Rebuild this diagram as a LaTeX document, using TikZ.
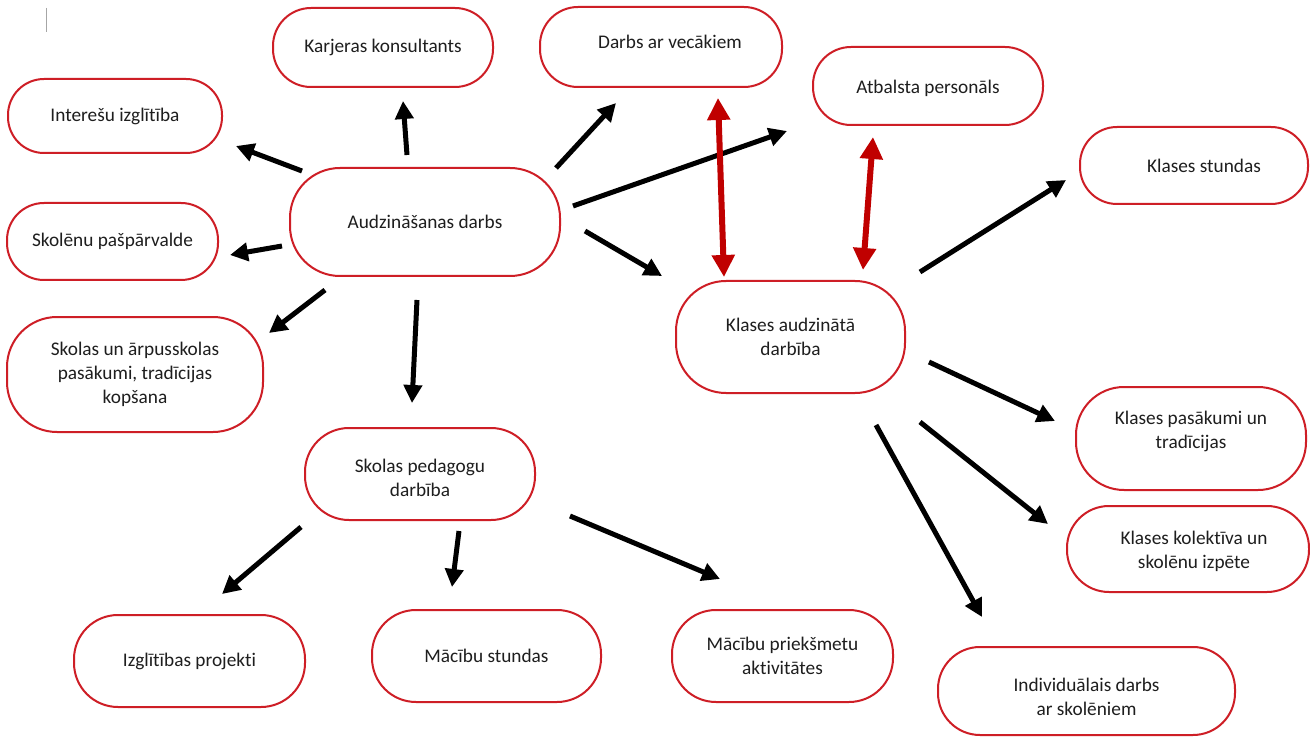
\documentclass[tikz,border=0pt]{standalone}
\usepackage{fontspec}
\setmainfont{Carlito}[Ligatures=NoCommon]
\usetikzlibrary{arrows.meta}
\definecolor{boxred}{RGB}{206,30,38}
\definecolor{arrred}{RGB}{192,0,0}
\definecolor{txt}{RGB}{30,30,30}
\begin{document}
\begin{tikzpicture}[x=1pt,y=-1pt,
  box/.style={draw=boxred, line width=2pt, fill=white, align=center, inner sep=0pt, text=txt,
    font=\fontsize{19.3}{24}\selectfont, rounded corners=#1},
  box/.default=38pt,
  arr/.style={line width=5pt, -{Triangle[length=18pt,width=18pt]}},
  darr/.style={arrred, line width=6pt, {Triangle[length=22pt,width=22pt]}-{Triangle[length=22pt,width=22pt]}}
]
\fill[white] (0,0) rectangle (1310,738);
\path[use as bounding box] (0,0) rectangle (1310,738);

% cursor mark
\draw[gray!70, line width=0.8pt] (46,8) -- (46,32);

% nodes
\node[box=38pt, minimum width=220pt, minimum height=79pt] (karj) at (383,47.5) {Karjeras konsultants};
\node[box=36pt, minimum width=214pt, minimum height=74pt] (inter) at (115,116) {Interešu izglītība};
\node[box=38pt, minimum width=242pt, minimum height=80pt] (darbs) at (661,47) {\hspace*{18pt}Darbs ar vecākiem\\[-14pt]};
\node[box=38pt, minimum width=230pt, minimum height=78pt] (atb) at (928,86) {\\[-5pt]Atbalsta personāls};
\node[box=37pt, minimum width=228pt, minimum height=77pt] (kstund) at (1194,165.5) {\hspace*{20pt}Klases stundas};
\node[box=50pt, minimum width=270pt, minimum height=108pt] (audz) at (425,222) {Audzināšanas darbs};
\node[box=37pt, minimum width=211pt, minimum height=77pt] (skol) at (112.5,241.5) {Skolēnu pašpārvalde};
\node[box=50pt, minimum width=256pt, minimum height=115pt] (skar) at (135,374.5) {Skolas un ārpusskolas\\pasākumi, tradīcijas\\kopšana};
\node[box=50pt, minimum width=229pt, minimum height=112pt] (kaud) at (790.5,337) {Klases audzinātā\\darbība};
\node[box=48pt, minimum width=230pt, minimum height=103pt] (kpas) at (1191,438.5) {Klases pasākumi un\\tradīcijas\\[-7pt]};
\node[box=42pt, minimum width=242pt, minimum height=86pt] (kkol) at (1188,549) {\\[-5pt]\hspace*{12pt}Klases kolektīva un\\\hspace*{12pt}skolēnu izpēte};
\node[box=44pt, minimum width=230pt, minimum height=92pt] (ped) at (420,474) {\\[-3pt]Skolas pedagogu\\darbība};
\node[box=44pt, minimum width=231pt, minimum height=92pt] (izgl) at (189.5,661) {Izglītības projekti};
\node[box=44pt, minimum width=229pt, minimum height=92pt] (mst) at (486.5,656) {Mācību stundas};
\node[box=44pt, minimum width=221pt, minimum height=92pt] (mpr) at (782.5,656) {Mācību priekšmetu\\aktivitātes};
\node[box=42pt, minimum width=297pt, minimum height=88pt] (ind) at (1086.5,691) {\\[1pt]Individuālais darbs\\ar skolēniem};

% arrow end points
\coordinate (a1s) at (407,155);  \coordinate (a1e) at (403,101);
\coordinate (a2s) at (302,171);  \coordinate (a2e) at (236,146);
\coordinate (a3s) at (282,246);  \coordinate (a3e) at (230,255);
\coordinate (a4s) at (325,290);  \coordinate (a4e) at (269,333);
\coordinate (a5s) at (417,300);  \coordinate (a5e) at (412,403);
\coordinate (a6s) at (556,168);  \coordinate (a6e) at (616,103);
\coordinate (a7s) at (573,206);  \coordinate (a7e) at (787,131);
\coordinate (a8s) at (585,231);  \coordinate (a8e) at (662,276);
\coordinate (r1s) at (718,98);   \coordinate (r1e) at (724,277);
\coordinate (r2s) at (873,137);  \coordinate (r2e) at (863,270);
\coordinate (a9s) at (920,272);  \coordinate (a9e) at (1066,180);
\coordinate (a10s) at (929,362); \coordinate (a10e) at (1055,421);
\coordinate (a11s) at (920,422); \coordinate (a11e) at (1048,524);
\coordinate (a12s) at (876,425); \coordinate (a12e) at (982,617);
\coordinate (a13s) at (570,516); \coordinate (a13e) at (720,579);
\coordinate (a14s) at (459,531); \coordinate (a14e) at (452,587);
\coordinate (a15s) at (301,527); \coordinate (a15e) at (222,594);

% connectors
\draw[arr] (a1s) -- (a1e);
\draw[arr] (a2s) -- (a2e);
\draw[arr] (a3s) -- (a3e);
\draw[arr] (a4s) -- (a4e);
\draw[arr] (a5s) -- (a5e);
\draw[arr] (a6s) -- (a6e);
\draw[arr] (a7s) -- (a7e);
\draw[arr] (a8s) -- (a8e);
\draw[darr] (r1s) -- (r1e);
\draw[darr] (r2s) -- (r2e);
\draw[arr] (a9s) -- (a9e);
\draw[arr] (a10s) -- (a10e);
\draw[arr] (a11s) -- (a11e);
\draw[arr] (a12s) -- (a12e);
\draw[arr] (a13s) -- (a13e);
\draw[arr] (a14s) -- (a14e);
\draw[arr] (a15s) -- (a15e);
\end{tikzpicture}
\end{document}
